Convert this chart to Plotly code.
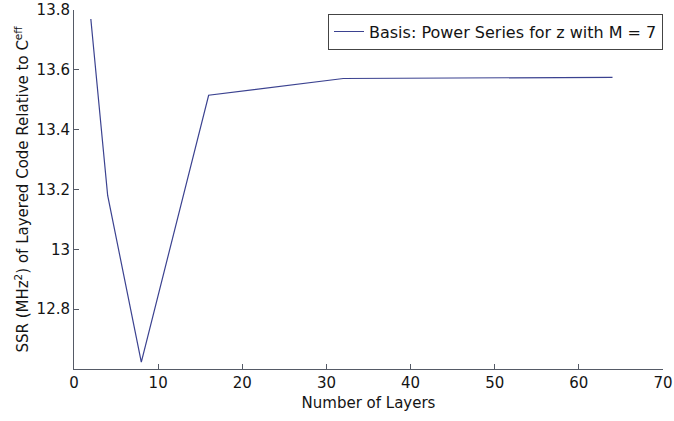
import plotly.graph_objects as go

layers = [2, 4, 8, 16, 32, 64]
ssr = [13.77, 13.18, 12.623, 13.515, 13.571, 13.575]
series_name = "Basis: Power Series for z with M = 7"
x_ticks = [0, 10, 20, 30, 40, 50, 60, 70]
y_ticks = [12.8, 13.0, 13.2, 13.4, 13.6, 13.8]
y_tick_text = ["12.8", "13", "13.2", "13.4", "13.6", "13.8"]

font_family = "DejaVu Sans, Verdana, sans-serif"
axis_color = "#555a66"
text_color = "#141414"

fig = go.Figure()
fig.add_trace(go.Scatter(
    x=layers, y=ssr, mode="lines", name=series_name,
    line=dict(color="#3b4290", width=1.2),
    showlegend=True,
))

fig.update_layout(
    width=674, height=421,
    margin=dict(l=74, r=11, t=10, b=52, autoexpand=False),
    paper_bgcolor="white", plot_bgcolor="white",
    font=dict(family=font_family, size=15, color=text_color),
    showlegend=True,
    legend=dict(
        x=1.0, y=0.99, xanchor="right", yanchor="top",
        bordercolor="#444444", borderwidth=1, bgcolor="white",
        font=dict(size=16, color=text_color),
        itemwidth=30, tracegroupgap=0,
    ),
    xaxis=dict(
        range=[0, 70], tickvals=x_ticks, ticks="inside", ticklen=5,
        tickcolor=axis_color, showline=True, linecolor=axis_color, linewidth=1,
        showgrid=False, zeroline=False, mirror=False,
        ticklabeloverflow="allow", automargin=False,
        title=dict(text="Number of Layers", standoff=6, font=dict(size=15)),
        tickfont=dict(size=15),
    ),
    yaxis=dict(
        range=[12.6, 13.8], tickvals=y_ticks, ticktext=y_tick_text,
        ticks="inside", ticklen=5, tickcolor=axis_color,
        showline=True, linecolor=axis_color, linewidth=1,
        showgrid=False, zeroline=False, mirror=False,
        ticklabeloverflow="allow", automargin=False,
        title=dict(text="SSR (MHz<sup>2</sup>) of Layered Code Relative to C<sup>eff</sup>",
                   standoff=4, font=dict(size=15)),
        tickfont=dict(size=15),
    ),
)

fig.write_html("out.html")
